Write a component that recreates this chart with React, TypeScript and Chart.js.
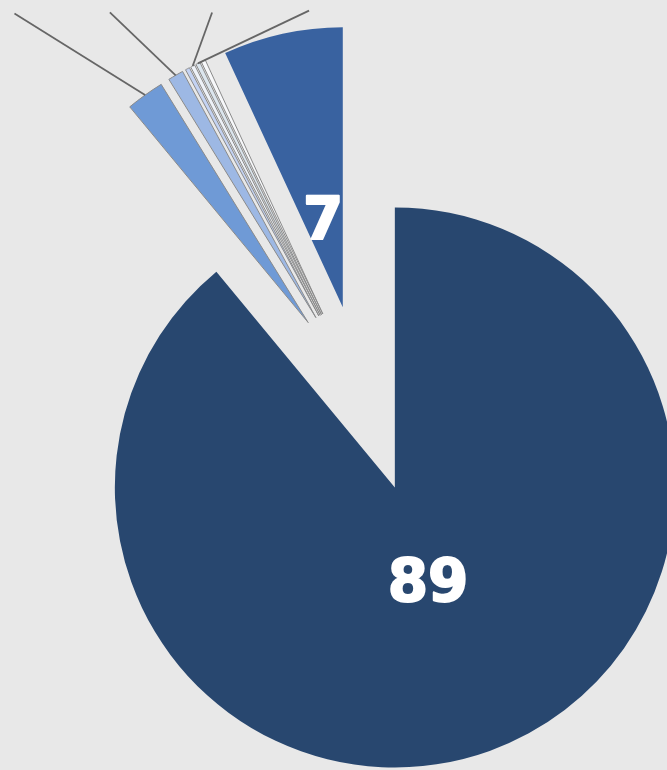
import React, { useEffect, useRef } from "react";
import { Chart, registerables } from "chart.js";

Chart.register(...registerables);

// ---- data ----
const categories = ["Catégorie 1", "Catégorie 2", "Catégorie 3", "Catégorie 4", "Catégorie 5", "Catégorie 6", "Catégorie 7", "Catégorie 8"];
const values = [89, 2.2, 0.9, 0.25, 0.25, 0.25, 0.25, 6.9];
const valueLabels = ["89", "", "", "", "", "", "", "7"];

// ---- styles ----
const sliceColors = ["#28476f", "#6f9ad6", "#9db8e4", "#c3d2f2", "#eef2f8", "#dce6ee", "#f7f8fa", "#3962a0"];
const sliceBorders = ["#28476f", "#8a8a8a", "#8a8a8a", "#8a8a8a", "#8a8a8a", "#8a8a8a", "#8a8a8a", "#3962a0"];
const sliceBorderWidths = [0, 1, 1, 1, 1, 1, 1, 0];
const labelDistance = [0.35, 0, 0, 0, 0, 0, 0, 0.325];
// leader lines: angle (deg, from up, counter-clockwise) and length in px
const leaderAngles = [null, 58, 46.3, null, -19.9, -64.6, null, null];
const leaderLengths = [0, 154, 91, 0, 57, 123, 0, 0];

const EXPLODE = 94;
const RADIUS = 280;

const explodePlugin = {
  id: "explodePie",
  beforeDatasetsDraw(chart: any) {
    const ctx = chart.ctx;
    const meta = chart.getDatasetMeta(0);
    meta.data.forEach((el: any) => {
      const mid = (el.startAngle + el.endAngle) / 2;
      ctx.save();
      ctx.translate(Math.cos(mid) * EXPLODE, Math.sin(mid) * EXPLODE);
      el.draw(ctx);
      ctx.restore();
    });
    return false;
  },
  afterDraw(chart: any) {
    const ctx = chart.ctx;
    const meta = chart.getDatasetMeta(0);
    meta.data.forEach((el: any, i: number) => {
      const mid = (el.startAngle + el.endAngle) / 2;
      const ca = Math.cos(mid);
      const sa = Math.sin(mid);
      const ang = leaderAngles[i];
      if (ang !== null && ang !== undefined) {
        const sx = el.x + ca * (EXPLODE + el.outerRadius);
        const sy = el.y + sa * (EXPLODE + el.outerRadius);
        const a = (ang * Math.PI) / 180;
        const ex = sx - Math.sin(a) * leaderLengths[i];
        const ey = sy - Math.cos(a) * leaderLengths[i];
        ctx.save();
        ctx.strokeStyle = "#666666";
        ctx.lineWidth = 1.8;
        ctx.beginPath();
        ctx.moveTo(sx, sy);
        ctx.lineTo(ex, ey);
        ctx.stroke();
        ctx.restore();
      }
      const txt = valueLabels[i];
      if (txt) {
        const dist = EXPLODE + labelDistance[i] * el.outerRadius;
        const x = el.x + ca * dist;
        const y = el.y + sa * dist;
        const fs = 58;
        ctx.save();
        ctx.font = `bold ${fs}px "DejaVu Sans"`;
        ctx.fillStyle = "#ffffff";
        ctx.strokeStyle = "#ffffff";
        ctx.lineWidth = 2;
        ctx.lineJoin = "round";
        ctx.textAlign = "center";
        ctx.textBaseline = "alphabetic";
        ctx.strokeText(txt, x, y + fs * 0.365);
        ctx.fillText(txt, x, y + fs * 0.365);
        ctx.restore();
      }
    });
  },
};

export default function App() {
  const ref = useRef<HTMLCanvasElement | null>(null);
  useEffect(() => {
    if (!ref.current) return;
    const chart = new Chart(ref.current, {
      type: "pie",
      data: {
        labels: categories,
        datasets: [
          {
            data: values,
            backgroundColor: sliceColors,
            borderColor: sliceBorders,
            borderWidth: sliceBorderWidths,
            offset: 0,
            hoverOffset: 0,
          },
        ],
      },
      options: {
        responsive: false,
        animation: false,
        radius: RADIUS,
        layout: { padding: { left: 59, top: 28, right: 0, bottom: 0 } },
        plugins: {
          legend: { display: false },
          tooltip: { enabled: false },
        },
        events: [],
      } as any,
      plugins: [explodePlugin],
    });
    return () => chart.destroy();
  }, []);
  return (
    <div style={{ position: "fixed", left: 0, top: 0, width: 667, height: 770, background: "#e8e8e8", overflow: "hidden" }}>
      <canvas ref={ref} width={667} height={770} style={{ display: "block" }} />
    </div>
  );
}
